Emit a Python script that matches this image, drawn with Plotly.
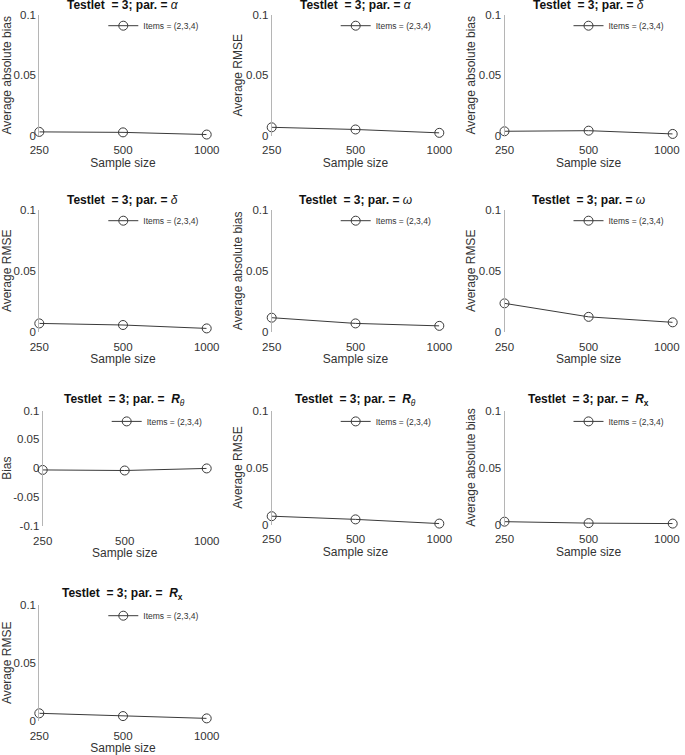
import plotly.graph_objects as go

# ---------------- data ----------------
sizes = ["250", "500", "1000"]
alpha_bias = [0.003, 0.0026, 0.0008]
alpha_rmse = [0.0068, 0.005, 0.0022]
delta_bias = [0.0035, 0.004, 0.0013]
delta_rmse = [0.0068, 0.0055, 0.0027]
omega_bias = [0.0115, 0.0068, 0.0048]
omega_rmse = [0.0233, 0.0122, 0.0077]
rtheta_bias = [-0.003, -0.004, -0.0004]
rtheta_rmse = [0.0073, 0.0045, 0.0008]
rx_bias = [0.0025, 0.0012, 0.0008]
rx_rmse = [0.0064, 0.004, 0.002]
legend_label = "Items = (2,3,4)"

T = "<b>Testlet&nbsp; = 3; par. = </b>"
panels = [
    (0, 0, T + "<i>α</i>", "Average absolute bias", alpha_bias),
    (0, 1, T + "<i>α</i>", "Average RMSE", alpha_rmse),
    (0, 2, T + "<i>δ</i>", "Average absolute bias", delta_bias),
    (1, 0, T + "<i>δ</i>", "Average RMSE", delta_rmse),
    (1, 1, T + "<i>ω</i>", "Average absolute bias", omega_bias),
    (1, 2, T + "<i>ω</i>", "Average RMSE", omega_rmse),
    (2, 0, T + "<b> <i>R</i></b><sub><i>θ</i></sub>", "Bias", rtheta_bias),
    (2, 1, T + "<b> <i>R</i></b><sub><i>θ</i></sub>", "Average RMSE", rtheta_rmse),
    (2, 2, T + "<b> <i>R</i><sub>x</sub></b>", "Average absolute bias", rx_bias),
    (3, 0, T + "<b> <i>R</i><sub>x</sub></b>", "Average RMSE", rx_rmse),
]

W, H = 685, 755
cols_px = [(39.3, 206.7), (271.7, 439.3), (504.5, 672.7)]
rows_px = [(15, 135.5), (210, 331.7), (410.7, 524.5), (605, 720.7)]

FONT = "Liberation Sans, Arial, Helvetica, sans-serif"
TXT = "#333333"
LINEC = "#3a3a3a"

fig = go.Figure()
layout = dict(
    width=W, height=H, margin=dict(l=0, r=0, t=0, b=0),
    paper_bgcolor="white", plot_bgcolor="white",
    font=dict(family=FONT, color=TXT, size=11),
    showlegend=True,
)
annotations = []

for i, (r, c, title, ylab, vals) in enumerate(panels):
    k = "" if i == 0 else str(i + 1)
    x0, x1 = cols_px[c]
    y0, y1 = rows_px[r]
    if ylab == "Bias":
        x0 = 42.7
        y1 = 525.7
    xd = [x0 / W, x1 / W]
    yd = [1 - y1 / H, 1 - y0 / H]
    leg = "legend" + k
    fig.add_trace(go.Scatter(
        x=[0, 1, 2], y=vals, mode="lines+markers", name=legend_label,
        line=dict(color=LINEC, width=1),
        marker=dict(symbol="circle-open", size=9, color=LINEC, line=dict(width=1)),
        cliponaxis=False, xaxis="x" + k, yaxis="y" + k, legend=leg,
    ))
    if ylab == "Bias":
        yr = [-0.1, 0.1]
        tv = [-0.1, -0.05, 0, 0.05, 0.1]
        tt = ["-0.1", "-0.05", "0", "0.05", "0.1"]
    else:
        yr = [0, 0.1]
        tv = [0, 0.05, 0.1]
        tt = ["0", "0.05", "0.1"]
    # the right-most column keeps its last label inside the figure edge
    xtv = [0, 1, 1.93] if c == 2 else [0, 1, 2]
    layout["xaxis" + k] = dict(
        domain=xd, anchor="y" + k, range=[0, 2],
        tickmode="array", tickvals=xtv, ticktext=sizes,
        ticks="outside", ticklen=4, tickcolor="rgba(0,0,0,0)",
        ticklabeloverflow="allow",
        showline=False, showgrid=False, zeroline=False,
        tickfont=dict(size=11.5, color=TXT),
        title=dict(text="Sample size", font=dict(size=12, color=TXT), standoff=2),
        automargin=False, fixedrange=True,
    )
    layout["yaxis" + k] = dict(
        domain=yd, anchor="x" + k, range=yr,
        tickmode="array", tickvals=tv, ticktext=tt,
        ticks="", showline=True, linecolor="#b5b5b5", linewidth=1,
        ticklabeloverflow="allow",
        showgrid=False, zeroline=False,
        tickfont=dict(size=11.5, color=TXT),
        title=dict(text=ylab, font=dict(size=12, color=TXT), standoff=0),
        automargin=False, fixedrange=True,
    )
    layout[leg] = dict(
        x=(x0 + 64) / W, xanchor="left",
        y=1 - (y0 + 10.7) / H, yanchor="middle",
        bgcolor="rgba(0,0,0,0)", borderwidth=0,
        font=dict(size=8.5, color=TXT, family=FONT),
        itemwidth=30,
    )
    annotations.append(dict(
        text=title, xref="x" + k + " domain", yref="y" + k + " domain",
        x=0.5, y=1, xanchor="center", yanchor="bottom", yshift=1,
        showarrow=False, font=dict(size=12, color="#111111", family=FONT),
    ))

layout["annotations"] = annotations
fig.update_layout(**layout)
fig.write_html(
    "out.html",
    config={"displayModeBar": False},
    post_script="document.body.style.margin='0';document.body.style.padding='0';",
)
